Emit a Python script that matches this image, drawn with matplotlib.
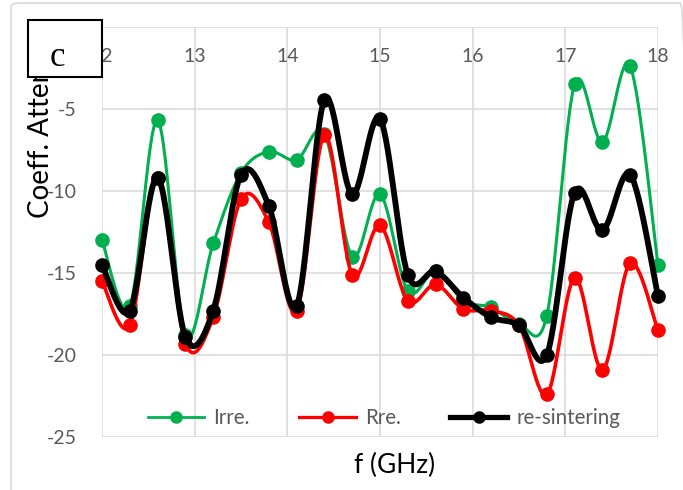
import numpy as np
import matplotlib.pyplot as plt
from matplotlib.patches import Rectangle, FancyBboxPatch
from matplotlib.lines import Line2D

# frequency (GHz) and attenuation values
freq = [12.0, 12.3, 12.6, 12.9, 13.2, 13.5, 13.8, 14.1, 14.4, 14.7, 15.0,
        15.3, 15.6, 15.9, 16.2, 16.5, 16.8, 17.1, 17.4, 17.7, 18.0]
irre = [-13.0, -17.0, -5.7, -18.8, -13.2, -8.9, -7.6, -8.1, -6.5, -14.0, -10.2,
        -16.1, -14.9, -16.7, -17.1, -18.1, -17.6, -3.5, -7.0, -2.4, -14.5]
rre = [-15.5, -18.2, -9.2, -19.3, -17.7, -10.5, -11.9, -17.3, -6.6, -15.1, -12.1,
       -16.7, -15.7, -17.2, -17.3, -18.2, -22.4, -15.3, -20.9, -14.4, -18.5]
resint = [-14.5, -17.3, -9.2, -18.9, -17.3, -9.0, -10.9, -17.0, -4.45, -10.2, -5.6,
          -15.1, -14.9, -16.5, -17.7, -18.2, -20.0, -10.1, -12.4, -9.0, -16.4]

xticks = [12, 13, 14, 15, 16, 17, 18]
yticks = [0, -5, -10, -15, -20, -25]
yticklabels = ['', '-5', '-10', '-15', '-20', '-25']   # "0" sits under the panel box


def smooth(x, y, n=30):
    # Excel style smoothed line (cubic Bezier through the points)
    P = np.column_stack([np.asarray(x, float), np.asarray(y, float)])
    P = np.vstack([P[0], P, P[-1]])
    out = []
    t = np.linspace(0, 1, n)[:, None]
    for i in range(1, len(P) - 2):
        p0, p1, p2, p3 = P[i - 1], P[i], P[i + 1], P[i + 2]
        c1 = p1 + (p2 - p0) / 6
        c2 = p2 - (p3 - p1) / 6
        seg = (1 - t) ** 3 * p1 + 3 * (1 - t) ** 2 * t * c1 + 3 * (1 - t) * t ** 2 * c2 + t ** 3 * p2
        out.append(seg)
    out = np.vstack(out)
    return out[:, 0], out[:, 1]


plt.rcParams['font.family'] = ['Lato', 'DejaVu Sans']
plt.rcParams['axes.unicode_minus'] = False
fig = plt.figure(figsize=(6.83, 4.90), dpi=100)
ax = fig.add_axes([102 / 683, 1 - 437 / 490, 556 / 683, 410 / 490])

# outer chart border
fig.patches.append(FancyBboxPatch((11 / 683, -0.05), 0.99, 1 - 3 / 490 + 0.05,
                                  boxstyle='round,pad=0,rounding_size=0.01',
                                  transform=fig.transFigure, fill=False,
                                  edgecolor='#d9d9d9', linewidth=1.2))

series = [(irre, '#00b050', 'Irre.', 2.2), (rre, '#ff0000', 'Rre.', 2.6),
          (resint, '#000000', 're-sintering', 4.2)]
handles = []
for vals, c, lab, lw in series:
    sx, sy = smooth(freq, vals)
    ax.plot(sx, sy, color=c, linewidth=lw, clip_on=False, zorder=3)
    ax.plot(freq, vals, 'o', color=c, markersize=9.5, clip_on=False, zorder=3)
    handles.append(Line2D([], [], color=c, linewidth=lw * 0.9, marker='o',
                          markersize=8, label=lab))

ax.set_xlim(12, 18)
ax.set_ylim(-25, 0)
ax.set_xticks(xticks)
ax.set_yticks(yticks)
ax.set_yticklabels(yticklabels)
ax.grid(True, color='#d9d9d9', linewidth=1.1)
ax.set_axisbelow(True)
for s in ax.spines.values():
    s.set_visible(False)

ax.tick_params(axis='x', bottom=False, labelbottom=False, top=False, labeltop=True,
               pad=-31, labelsize=14, labelcolor='#595959')
ax.tick_params(axis='y', left=False, pad=15, labelsize=14, labelcolor='#595959')

ax.set_xlabel('f (GHz)', fontsize=19)
ax.xaxis.set_label_coords(0.527, -0.04)

# axis title, the rest of it is hidden by the panel box in the original
fig.text(41 / 683, 1 - 218 / 490, 'Coeff. Atten', rotation=90,
         ha='center', va='bottom', fontsize=20)

ax.legend(handles=handles, loc='center', bbox_to_anchor=(0.507, 0.046), ncol=3,
          frameon=False, handlelength=2.75, columnspacing=2.4, fontsize=14.8,
          labelcolor='#595959', handletextpad=0.45)

# panel label box
fig.patches.append(Rectangle((28 / 683, 1 - 77 / 490), 74 / 683, 57 / 490,
                             transform=fig.transFigure, facecolor='white',
                             edgecolor='black', linewidth=1.5, zorder=10))
fig.text(57 / 683, 1 - 66 / 490, 'c', family='Liberation Serif', fontsize=25,
         ha='center', va='baseline', zorder=11)

plt.savefig('out.png', dpi=100)
